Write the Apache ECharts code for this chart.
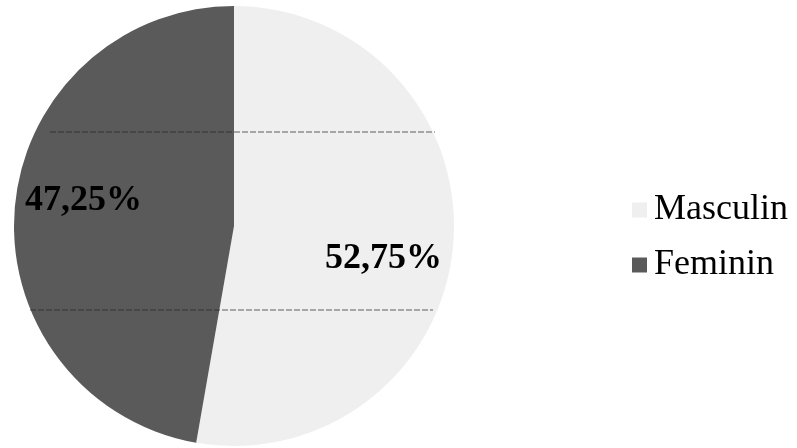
<!DOCTYPE html>
<html>
<head>
<meta charset="utf-8">
<script src="https://cdn.jsdelivr.net/npm/echarts@6/dist/echarts.min.js"></script>
<style>
html,body{margin:0;padding:0;background:#fff;}
#chart{width:797px;height:448px;}
</style>
</head>
<body>
<div id="chart"></div>
<script>
const categories = ['Masculin', 'Feminin'];
const values = [52.75, 47.25];
const labelTexts = ['52,75%', '47,25%'];

const colors = ['#efefef', '#5a5a5a'];
const labelOffsets = [[37, 23], [-38, -16]];

const chart = echarts.init(document.getElementById('chart'), null, {renderer: 'canvas'});
const data = categories.map((c, i) => ({
  name: c,
  value: values[i],
  itemStyle: {color: colors[i]},
  label: {formatter: labelTexts[i], offset: labelOffsets[i]}
}));

chart.setOption({
  animation: false,
  backgroundColor: '#fff',
  legend: {
    orient: 'vertical',
    left: 627,
    top: 187,
    itemWidth: 15,
    itemHeight: 15,
    itemGap: 19,
    icon: 'rect',
    data: categories,
    textStyle: {fontFamily: 'Liberation Serif', fontSize: 36, color: '#000', padding: [0, 0, 0, 2]}
  },
  series: [{
    type: 'pie',
    center: [234, 226],
    radius: 220,
    startAngle: 90,
    clockwise: true,
    data: data,
    label: {
      show: true,
      position: 'inside',
      fontFamily: 'Liberation Serif',
      fontWeight: 'bold',
      fontSize: 36,
      color: '#000'
    },
    labelLine: {show: false},
    itemStyle: {borderWidth: 0}
  }],
  graphic: [
    {type: 'line', z: 100, shape: {x1: 50, y1: 132, x2: 435, y2: 132}, style: {stroke: '#222', lineWidth: 1, lineDash: [6, 2], opacity: 0.7}, silent: true},
    {type: 'line', z: 100, shape: {x1: 30, y1: 310, x2: 433, y2: 310}, style: {stroke: '#222', lineWidth: 1, lineDash: [6, 2], opacity: 0.7}, silent: true}
  ]
});
</script>
</body>
</html>
